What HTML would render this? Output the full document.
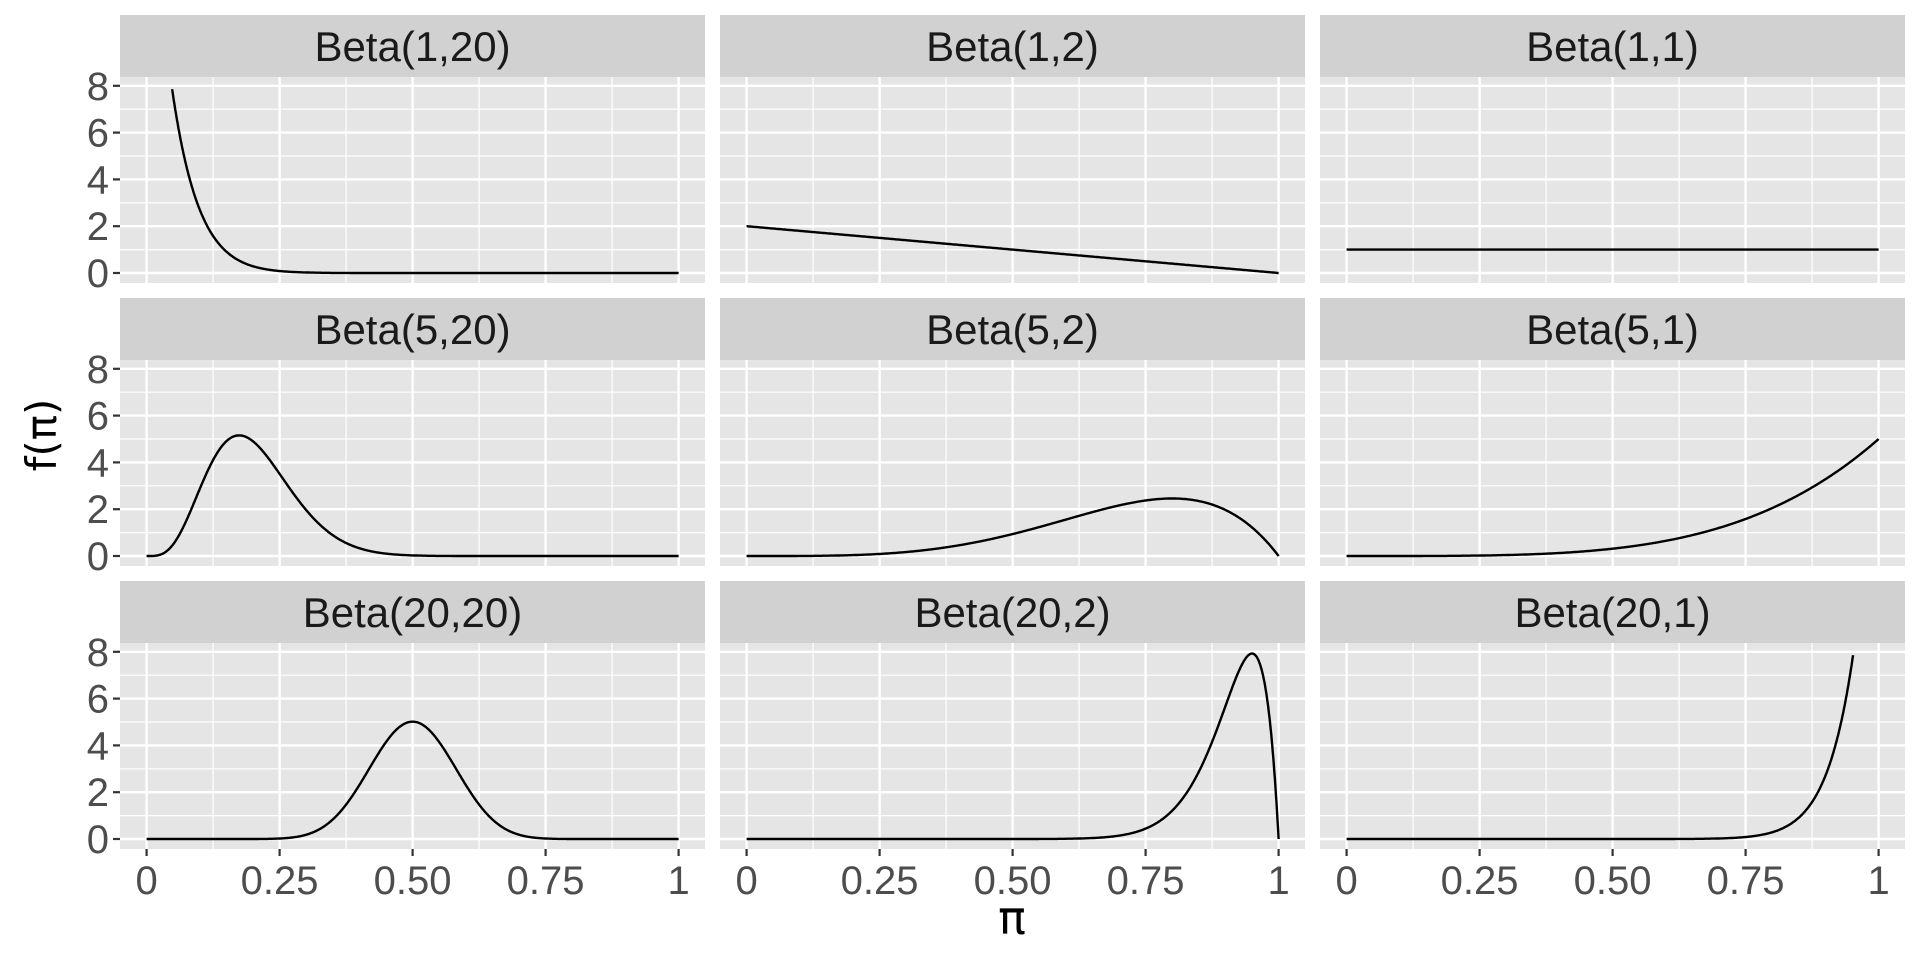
<!DOCTYPE html>
<html><head><meta charset="utf-8"><style>
html,body{margin:0;padding:0;background:#fff;}
svg{display:block;}
</style></head><body>
<svg id="s" width="1920" height="960" xmlns="http://www.w3.org/2000/svg"></svg>
<script>
const s=document.getElementById('s');
let h='';
const names=[["Beta(1,20)",1,20],["Beta(1,2)",1,2],["Beta(1,1)",1,1],
["Beta(5,20)",5,20],["Beta(5,2)",5,2],["Beta(5,1)",5,1],
["Beta(20,20)",20,20],["Beta(20,2)",20,2],["Beta(20,1)",20,1]];
function lg(n){let r=0;for(let i=2;i<n;i++)r+=Math.log(i);return r;}
function dens(x,a,b){if(x<=0)return a==1?b:0; if(x>=1)return b==1?a:0;
 const lb=lg(a)+lg(b)-lg(a+b);
 return Math.exp((a-1)*Math.log(x)+(b-1)*Math.log(1-x)-lb);}
for(let r=0;r<3;r++)for(let c=0;c<3;c++){
 const L=120+c*600,R=L+585,T=15+r*283,ST=T+62,B=T+268;
 const x0=L+26.6,xw=532,y0=273+r*283,yu=23.4;
 const X=v=>x0+v*xw,Y=v=>y0-v*yu;
 h+=`<rect x="${L}" y="${T}" width="585" height="62" fill="#d1d1d1"/>`;
 h+=`<text x="${(L+R)/2}" y="${T+46}" font-family="Liberation Sans,sans-serif" font-size="42" fill="#1a1a1a" text-anchor="middle">${names[r*3+c][0]}</text>`;
 h+=`<rect x="${L}" y="${ST}" width="585" height="${B-ST}" fill="#e5e5e5"/>`;
 for(let v=0.125;v<1;v+=0.25)h+=`<line x1="${X(v)}" x2="${X(v)}" y1="${ST}" y2="${B}" stroke="#fff" stroke-width="1.2"/>`;
 for(let v=1;v<8;v+=2)h+=`<line x1="${L}" x2="${R}" y1="${Y(v)}" y2="${Y(v)}" stroke="#fff" stroke-width="1.2"/>`;
 for(let v=0;v<=1;v+=0.25)h+=`<line x1="${X(v)}" x2="${X(v)}" y1="${ST}" y2="${B}" stroke="#fff" stroke-width="2.4"/>`;
 for(let v=0;v<=8;v+=2)h+=`<line x1="${L}" x2="${R}" y1="${Y(v)}" y2="${Y(v)}" stroke="#fff" stroke-width="2.4"/>`;
 if(c==0)for(let v=0;v<=8;v+=2){h+=`<line x1="${L-7}" x2="${L}" y1="${Y(v)}" y2="${Y(v)}" stroke="#333" stroke-width="2.2"/>`;
  h+=`<text x="${L-11}" y="${Y(v)+14}" font-family="Liberation Sans,sans-serif" font-size="40" fill="#4d4d4d" text-anchor="end">${v}</text>`;}
 if(r==2){const lab=["0","0.25","0.50","0.75","1"];for(let i=0;i<5;i++){const v=i*0.25;
  h+=`<line x1="${X(v)}" x2="${X(v)}" y1="${B}" y2="${B+7}" stroke="#333" stroke-width="2.2"/>`;
  h+=`<text x="${X(v)}" y="${B+45}" font-family="Liberation Sans,sans-serif" font-size="40" fill="#4d4d4d" text-anchor="middle">${lab[i]}</text>`;}}
 const [,a,b]=names[r*3+c];let d='',st=false;
 for(let i=0;i<=1000;i++){const x=i/1000,y=dens(x,a,b);
  if(y>7.9&&!(a==20&&b==2)){if(st)break;continue;}
  d+=(st?'L':'M')+X(x).toFixed(1)+' '+Y(y).toFixed(1);st=true;}
 h+=`<path d="${d}" fill="none" stroke="#000" stroke-width="2.4"/>`;
}
h+=`<text x="1012" y="934" font-family="DejaVu Sans,sans-serif" font-size="46" fill="#000" text-anchor="middle">π</text>`;
h+=`<text transform="translate(56,435) rotate(-90)" font-family="DejaVu Sans,sans-serif" font-size="42" fill="#000" text-anchor="middle">f(π)</text>`;
s.innerHTML=h;
</script>
</body></html>
